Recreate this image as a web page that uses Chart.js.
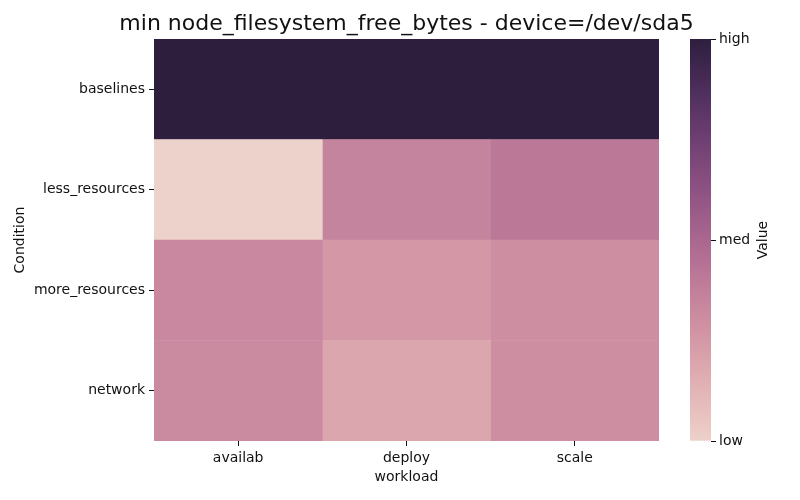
<!DOCTYPE html>
<html>
<head>
<meta charset="utf-8">
<script src="https://cdn.jsdelivr.net/npm/chart.js@4/dist/chart.umd.min.js"></script>
<style>
html,body{margin:0;padding:0;background:#fff;}
#wrap{position:relative;width:800px;height:500px;}
#wrap canvas{position:absolute;left:0;top:0;}
</style>
</head>
<body>
<div id="wrap">
<canvas id="main" width="800" height="500"></canvas>
<canvas id="cbar" width="800" height="500"></canvas>
</div>
<script>
// ---- data ----
const workloads = ['availab', 'deploy', 'scale'];
const conditions = ['baselines', 'less_resources', 'more_resources', 'network'];
// normalized value (0 = low, 1 = high), one entry per condition
const availab = [1.00, 0.00, 0.33, 0.32];
const deploy  = [1.00, 0.35, 0.26, 0.19];
const scale   = [1.00, 0.41, 0.30, 0.30];
const colorbarLabels = ['low', 'med', 'high'];
const colorbarTickValues = [0, 0.5, 1];
const titleText = 'min node_filesystem_free_bytes - device=/dev/sda5';

// seaborn cubehelix_palette(as_cmap=True) colormap
function cmap(v) {
  const light = 0.85, dark = 0.15, start = 0, rot = 0.4, gamma = 1.0, hue = 0.8;
  const x = light + (dark - light) * v;
  const f = (p0, p1) => {
    const xg = Math.pow(x, gamma);
    const a = hue * xg * (1 - xg) / 2;
    const phi = 2 * Math.PI * (start / 3 + rot * x);
    return Math.min(1, Math.max(0, xg + a * (p0 * Math.cos(phi) + p1 * Math.sin(phi))));
  };
  const r = Math.round(f(-0.14861, 1.78277) * 255);
  const g = Math.round(f(-0.29227, -0.90649) * 255);
  const b = Math.round(f(1.97294, 0.0) * 255);
  return `rgb(${r},${g},${b})`;
}

const FONT = 'DejaVu Sans';
const TXT = '#111';
Chart.defaults.font.family = FONT;
Chart.defaults.color = TXT;
Chart.defaults.animation = false;

const columns = [availab, deploy, scale];
const datasets = columns.map((col, j) => ({
  label: workloads[j],
  data: conditions.map(() => [j, j + 1]),
  backgroundColor: col.map(v => cmap(v)),
  borderWidth: 0,
  barPercentage: 1,
  categoryPercentage: 1,
  grouped: false
}));

// title centred over the plot area (like matplotlib)
const centeredTitle = {
  id: 'centeredTitle',
  afterDraw(chart) {
    const ctx = chart.ctx;
    const ca = chart.chartArea;
    ctx.save();
    ctx.font = `22px ${FONT}`;
    ctx.fillStyle = TXT;
    ctx.textAlign = 'center';
    ctx.textBaseline = 'alphabetic';
    ctx.fillText(titleText, (ca.left + ca.right) / 2, ca.top - 9);
    ctx.restore();
  }
};

new Chart(document.getElementById('main'), {
  type: 'bar',
  data: { labels: conditions, datasets },
  plugins: [centeredTitle],
  options: {
    indexAxis: 'y',
    responsive: false,
    layout: { padding: { left: 0, right: 141, top: 39, bottom: 0 } },
    plugins: {
      legend: { display: false },
      tooltip: { enabled: false },
      title: { display: false }
    },
    scales: {
      x: {
        type: 'linear',
        min: 0, max: 3,
        border: { display: false },
        grid: { display: true, drawOnChartArea: false, drawTicks: true, tickLength: 5, color: TXT },
        afterBuildTicks: (s) => { s.ticks = workloads.map((w, i) => ({ value: i + 0.5 })); },
        ticks: {
          font: { size: 14 },
          color: TXT,
          padding: 4,
          maxRotation: 0,
          callback: (v) => workloads[Math.floor(v)]
        },
        title: { display: true, text: 'workload', font: { size: 14 }, color: TXT, padding: { top: 2, bottom: 14 } },
        afterFit: (s) => { s.height = 59; }
      },
      y: {
        type: 'category',
        offset: true,
        border: { display: false },
        grid: { display: true, offset: false, drawOnChartArea: false, drawTicks: true, tickLength: 5, color: TXT },
        ticks: { font: { size: 14 }, color: TXT, padding: 4 },
        title: { display: true, text: 'Condition', font: { size: 14 }, color: TXT, padding: { top: 12, bottom: 4 } },
        afterFit: (s) => { s.width = 154; }
      }
    }
  }
});

// colorbar
const valueLabelPlugin = {
  id: 'valueLabel',
  afterDraw(chart) {
    const ctx = chart.ctx;
    const ca = chart.chartArea;
    ctx.save();
    ctx.font = `14px ${FONT}`;
    ctx.fillStyle = TXT;
    ctx.textAlign = 'center';
    ctx.textBaseline = 'middle';
    ctx.translate(763, (ca.top + ca.bottom) / 2);
    ctx.rotate(-Math.PI / 2);
    ctx.fillText('Value', 0, 0);
    ctx.restore();
  }
};

new Chart(document.getElementById('cbar'), {
  type: 'bar',
  data: {
    labels: ['cb'],
    datasets: [{
      data: [[0, 1]],
      borderWidth: 0,
      barPercentage: 1,
      categoryPercentage: 1,
      backgroundColor: (c) => {
        const ca = c.chart.chartArea;
        if (!ca) return cmap(0.5);
        const g = c.chart.ctx.createLinearGradient(0, ca.bottom, 0, ca.top);
        for (let i = 0; i <= 40; i++) g.addColorStop(i / 40, cmap(i / 40));
        return g;
      }
    }]
  },
  plugins: [valueLabelPlugin],
  options: {
    responsive: false,
    layout: { padding: { left: 690, right: 0, top: 39, bottom: 59 } },
    plugins: { legend: { display: false }, tooltip: { enabled: false }, title: { display: false } },
    scales: {
      x: { display: false },
      y: {
        position: 'right',
        min: 0, max: 1,
        border: { display: false },
        grid: { display: true, drawOnChartArea: false, drawTicks: true, tickLength: 5, color: TXT },
        afterBuildTicks: (s) => { s.ticks = colorbarTickValues.map(v => ({ value: v })); },
        ticks: {
          font: { size: 14 },
          color: TXT,
          padding: 3,
          callback: (v) => colorbarLabels[colorbarTickValues.indexOf(v)]
        },
        afterFit: (s) => { s.width = 89; }
      }
    }
  }
});
</script>
</body>
</html>
